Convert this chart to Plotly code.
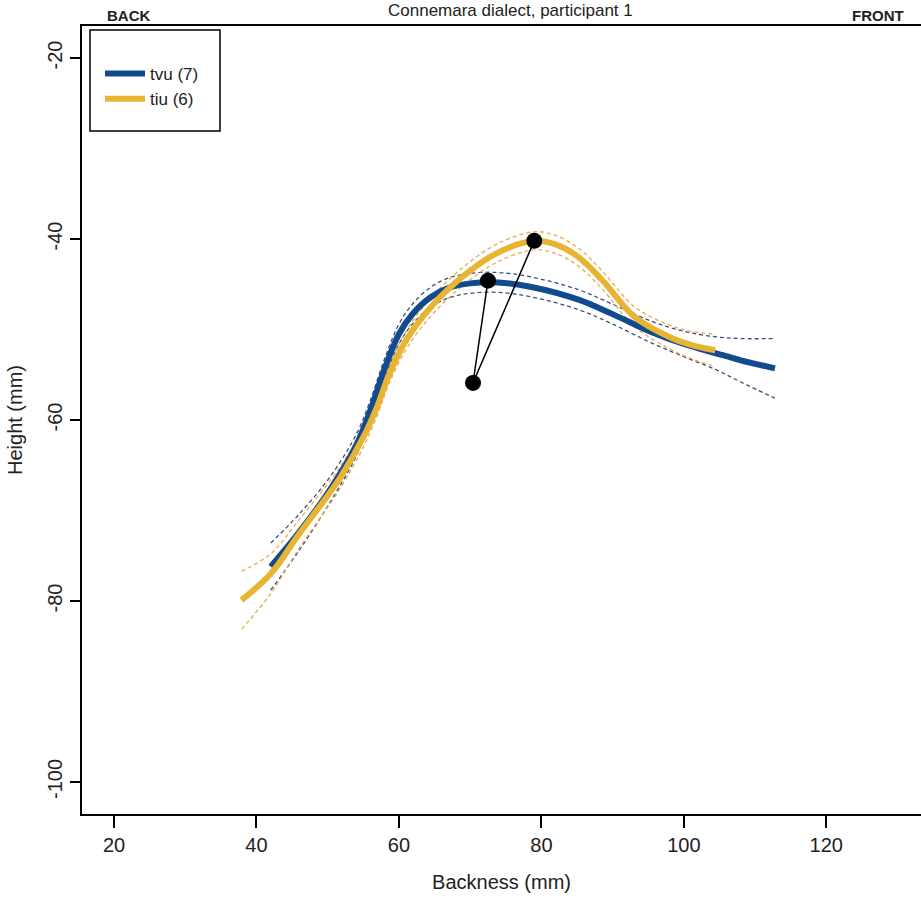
import plotly.graph_objects as go

# ---- data ----
tvu_x = [42.0, 46.0, 50.4, 54.0, 56.0, 58.0, 60.0, 62.0, 64.5, 67.0, 70.0, 74.0, 78.6, 85.2, 90.0, 95.5, 100.0, 104.4, 108.0, 112.8]
tvu_y = [-76.2, -72.4, -67.6, -62.8, -58.9, -54.3, -50.5, -48.2, -46.4, -45.4, -44.9, -44.8, -45.3, -46.7, -48.3, -50.3, -51.6, -52.6, -53.4, -54.3]
tvu_se = [2.6, 2.0, 1.4, 1.2, 1.1, 1.1, 1.1, 1.1, 1.1, 1.1, 1.1, 1.1, 1.1, 1.1, 1.1, 1.2, 1.4, 1.8, 2.4, 3.3]

tiu_x = [37.9, 42.0, 45.8, 51.8, 55.0, 57.0, 58.5, 61.0, 64.5, 69.2, 73.9, 79.0, 82.0, 85.2, 88.5, 93.1, 97.9, 101.0, 104.4]
tiu_y = [-79.9, -77.0, -72.8, -66.3, -61.9, -58.4, -55.2, -51.2, -47.5, -44.0, -41.5, -40.2, -40.6, -42.0, -44.5, -48.6, -50.8, -51.7, -52.3]
tiu_se = [3.2, 2.2, 1.6, 1.2, 1.1, 1.0, 1.0, 1.0, 1.0, 1.0, 1.0, 1.0, 1.0, 1.0, 1.0, 1.1, 1.3, 1.5, 1.8]

# landmark points: (apex of tvu, origin point, apex of tiu)
pts_x = [72.5, 70.4, 79.0]
pts_y = [-44.6, -55.9, -40.2]

labels = ["tvu (7)", "tiu (6)"]
x_ticks = [20, 40, 60, 80, 100, 120]
y_ticks = [-20, -40, -60, -80, -100]

BLUE = "#124a8e"
BLUE_D = "#3b4f82"
YEL = "#e8b433"
YEL_D = "#eca94e"
FONT = "Liberation Sans, Arial, sans-serif"

fig = go.Figure()

def band(xs, ys, se, color):
    up = [y + s for y, s in zip(ys, se)]
    lo = [y - s for y, s in zip(ys, se)]
    for arr in (up, lo):
        fig.add_trace(go.Scatter(x=xs, y=arr, mode="lines", showlegend=False,
                                 hoverinfo="skip",
                                 line=dict(color=color, width=1.3, dash="4px,3px",
                                           shape="spline", smoothing=1.0)))

band(tvu_x, tvu_y, tvu_se, BLUE_D)
band(tiu_x, tiu_y, tiu_se, YEL_D)

fig.add_trace(go.Scatter(x=tvu_x, y=tvu_y, mode="lines", name=labels[0],
                         line=dict(color=BLUE, width=6, shape="spline", smoothing=1.0)))
fig.add_trace(go.Scatter(x=tiu_x, y=tiu_y, mode="lines", name=labels[1],
                         line=dict(color=YEL, width=6, shape="spline", smoothing=1.0)))

fig.add_trace(go.Scatter(x=pts_x, y=pts_y, mode="lines+markers", showlegend=False,
                         line=dict(color="black", width=1.5),
                         marker=dict(color="black", size=16)))

fig.update_layout(
    width=921, height=914,
    margin=dict(l=82, r=0, t=26, b=100),
    paper_bgcolor="white", plot_bgcolor="white",
    font=dict(family=FONT, size=20, color="#222"),
    showlegend=True,
    legend=dict(x=(100 - 82) / 839, y=1 - (56 - 26) / 788, xanchor="left", yanchor="top",
                bgcolor="rgba(0,0,0,0)", borderwidth=0,
                font=dict(size=17, family=FONT, color="#222"),
                itemwidth=40, tracegroupgap=0),
    xaxis=dict(range=[15.5, 133.3], tickvals=x_ticks, ticktext=[str(v) for v in x_ticks],
               showgrid=False, zeroline=False, showline=True, linecolor="black",
               linewidth=2, mirror=True, ticks="outside", ticklen=12, tickwidth=1.5,
               tickcolor="black", tickfont=dict(size=20),
               title=dict(text="Backness (mm)", font=dict(size=20), standoff=20)),
    yaxis=dict(range=[-103.54, -16.46], tickvals=y_ticks, ticktext=[str(v) for v in y_ticks],
               showgrid=False, zeroline=False, showline=True, linecolor="black",
               linewidth=2, mirror=False, ticks="outside", ticklen=10, tickwidth=1.5,
               tickcolor="black", tickangle=-90, tickfont=dict(size=20),
               title=dict(text="Height (mm)", font=dict(size=20), standoff=16)),
    shapes=[dict(type="rect", xref="paper", yref="paper",
                 x0=(90 - 82) / 839, x1=(220 - 82) / 839,
                 y0=1 - (131 - 26) / 788, y1=1 - (30 - 26) / 788,
                 line=dict(color="black", width=1.5), fillcolor="rgba(0,0,0,0)")],
    annotations=[
        dict(text="Connemara dialect, participant 1", xref="paper", yref="paper",
             x=(510 - 82) / 839, y=1 + 15 / 788, showarrow=False,
             font=dict(size=17, family=FONT, color="#222"), xanchor="center", yanchor="middle"),
        dict(text="<b>BACK</b>", xref="paper", yref="paper",
             x=(128 - 82) / 839, y=1 + 11 / 788, showarrow=False,
             font=dict(size=15, family=FONT, color="#222"), xanchor="center", yanchor="middle"),
        dict(text="<b>FRONT</b>", xref="paper", yref="paper",
             x=(878 - 82) / 839, y=1 + 11 / 788, showarrow=False,
             font=dict(size=15, family=FONT, color="#222"), xanchor="center", yanchor="middle"),
    ],
)

fig.write_html("out.html")
